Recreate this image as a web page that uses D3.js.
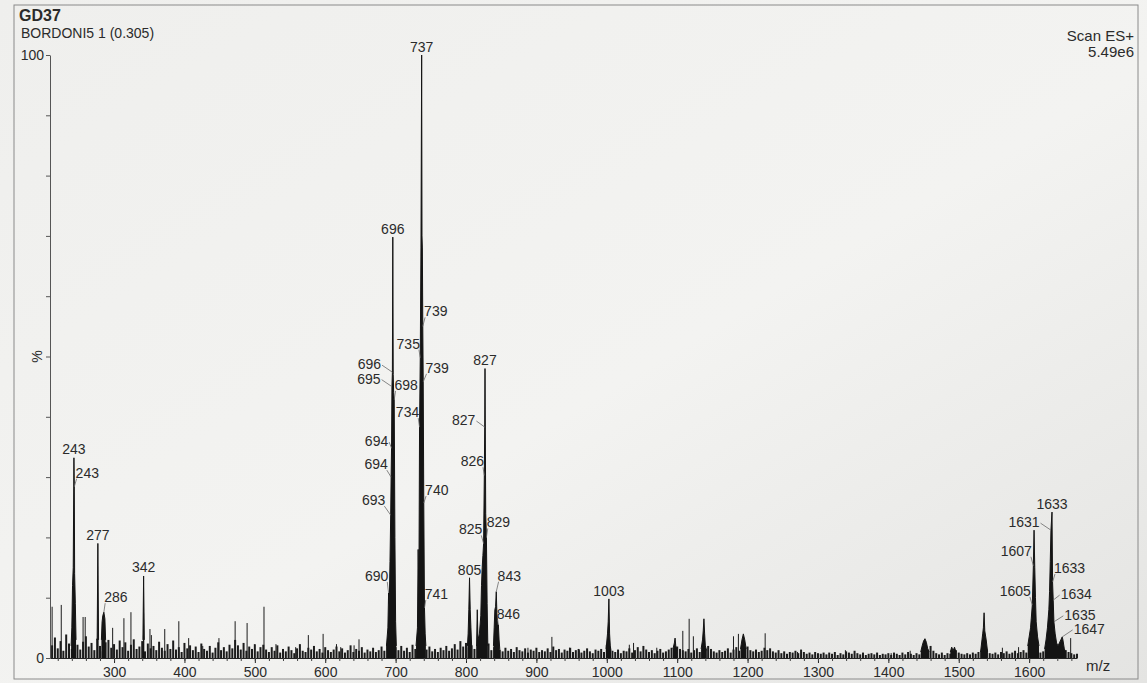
<!DOCTYPE html>
<html>
<head>
<meta charset="utf-8">
<script src="https://cdn.jsdelivr.net/npm/d3@7"></script>
<style>
  body { margin: 0; background: #efefed; }
  svg text { font-family: "Liberation Sans", Arial, sans-serif; fill: #2b2b2b; }
</style>
</head>
<body>
<div id="chart"></div>
<script>
// ---- data ----
const xTicks = [300, 400, 500, 600, 700, 800, 900, 1000, 1100, 1200, 1300, 1400, 1500, 1600];
const yTicks = [0, 10, 20, 30, 40, 50, 60, 70, 80, 90, 100];
const yLabels = { 0: "0", 100: "100" };

// baseline grass, % intensity, one value every 4 m/z starting at 212
const noiseStart = 212, noiseStep = 4;
const noise = [
  2.1,3.4,1.6,2.8,1.2,3.9,2.4,1.5,3.1,2.2,1.4,2.7,3.6,1.9,2.5,1.3,3.2,2.0,1.1,2.6,3.0,1.7,2.3,1.4,2.9,
  1.8,2.6,1.2,2.2,3.1,1.5,1.9,2.8,1.1,2.4,1.6,2.0,1.3,2.7,1.7,1.2,2.3,1.5,2.9,1.4,1.8,1.0,2.5,1.6,2.1,
  1.3,1.9,1.0,2.4,1.5,1.2,2.0,0.9,1.7,2.6,1.3,1.8,1.1,2.2,1.6,3.0,2.1,1.4,2.5,1.2,1.9,1.5,2.3,1.1,1.8,
  2.2,1.4,1.0,1.8,1.2,2.1,0.9,1.5,1.1,1.9,1.3,0.8,1.6,2.3,1.2,1.0,1.7,1.4,2.0,1.1,1.5,0.9,1.8,1.3,1.0,
  1.4,1.9,1.1,1.6,0.9,1.3,2.1,1.0,1.5,1.2,1.8,0.9,1.4,1.1,1.7,1.0,1.3,1.9,1.2,2.4,1.6,1.1,1.8,1.3,2.0,
  1.2,1.7,1.0,2.2,1.5,1.1,1.8,2.6,1.4,1.9,1.1,1.5,1.0,1.7,1.3,2.0,1.2,1.6,2.3,1.4,2.8,1.9,2.5,1.7,2.1,
  1.5,2.2,2.8,1.6,1.9,2.4,1.3,1.8,2.2,1.4,1.1,1.7,1.2,1.5,1.0,1.8,1.3,1.1,1.6,0.9,1.4,1.2,1.7,1.0,1.3,
  1.1,1.6,1.0,1.9,1.3,1.5,0.9,1.4,1.2,1.7,1.0,1.3,1.5,0.9,1.2,1.6,1.1,0.8,1.4,1.2,1.5,1.0,2.2,1.8,1.2,
  1.0,1.4,0.8,1.2,1.1,1.6,0.9,1.3,1.8,1.1,2.0,1.4,1.0,1.3,0.8,1.2,1.5,0.9,1.1,1.4,1.7,1.2,1.9,1.5,1.3,
  1.1,1.5,0.9,1.3,1.6,1.0,1.4,1.2,2.0,1.5,1.1,0.9,1.3,1.0,1.2,1.6,0.9,1.4,1.8,1.2,2.1,1.6,1.9,1.3,1.1,
  1.4,1.0,1.2,1.7,1.3,1.6,1.1,0.9,1.3,0.8,1.1,0.7,1.0,0.9,1.2,0.8,1.4,1.0,0.7,0.9,0.6,1.0,0.8,0.7,0.9,
  0.6,0.9,0.7,1.0,0.5,0.8,0.6,1.1,0.9,0.7,1.2,0.8,0.6,0.9,0.5,0.7,0.8,0.6,0.9,0.5,0.7,0.6,0.8,0.5,0.9,
  0.7,0.5,0.9,0.6,1.0,0.7,0.5,0.8,0.6,1.1,0.9,1.4,2.0,1.2,0.8,0.6,0.9,0.5,0.8,0.7,1.0,1.3,0.9,0.7,0.6,
  0.8,0.6,0.9,0.7,1.0,1.2,2.0,1.4,0.8,0.7,0.9,0.6,1.0,0.8,1.1,0.7,0.9,1.2,0.8,1.0,1.3,0.9,1.1,1.4,1.0,
  1.2,0.9,1.1,0.8,1.3,1.0,1.4,1.1,1.5,1.8,1.3,1.0,0.8,0.6,0.7
];

// unlabelled single sticks [m/z, %]
const sticks = [
  [212,8.5],[225,8.8],[256,6.8],[259,6.8],[298,5],[314,6.6],[324,7.6],[351,4.8],[353,3.8],
  [372,4.8],[392,6.1],[406,3.3],[426,2],[449,3.3],[472,6.1],[489,5.8],[513,8.5],[530,2.3],
  [558,1.8],[576,3.8],[597,4],[616,2.3],[622,1.8],[641,2.1],[648,3.1],[888,1.7],[922,3.5],
  [947,1.7],[961,1.3],[1032,2.2],[1038,2.5],[1071,1.7],[1108,4.5],[1117,6.5],[1123,3.6],
  [1180,3.6],[1187,4],[1225,4.1],[1271,1],[1339,1.3],[1404,0.8],[1431,1.2],[1562,1.7],
  [1585,1.8],[1659,3.3]
];

// peak profiles [m/z, %]
const p243 = [[239,2],[240,5],[241,12],[242,15],[243,33.2],[243.5,28.4],[244,14],[245,9],[246,3]];
const p277 = [[276,3],[277,19],[278,3]];
const p286 = [[282,3],[283,6],[284,7],[285.5,7.6],[287,6.5],[288,3]];
const p342 = [[341,3],[342,13.6],[343,3]];
const p696 = [[687,2],[689,5],[690,10.8],[691,9],[692,16],[693,23.7],[693.6,30],[694.2,34.8],
  [694.8,45],[695.4,47.4],[696,69.8],[696.6,47],[697.2,44],[698,42.8],[699,20],[700,6],[701,2]];
const p737 = [[729,2],[731,5],[732,18],[733,10],[734,38.3],[735,49.8],[736,68],[737,100],
  [737.5,70],[738,68],[738.6,55],[739.2,45.8],[740,25.7],[741,8.3],[742,4],[743,2]];
const p805 = [[802,2],[803,4],[804,8],[805,13.3],[806,8],[807,5],[808,2]];
const p827 = [[815,2],[816,8],[817,3],[819,4],[821,7],[822,12],[823,15],[824,17],[825,19],
  [826,30.3],[826.6,38.3],[827,48],[828,24],[829,20],[830,9],[831,2]];
const p843 = [[839,2],[840,5],[841,8],[842,8.5],[843,11],[844,7],[845,5.5],[846,5.5],[847,3],[848,1.5]];
const p1003 = [[999,1.5],[1001,4],[1002,6],[1003,9.8],[1004,4],[1005,2],[1006,1.2]];
const p1097 = [[1094,1.5],[1096,2.5],[1097,3.3],[1098,2],[1100,1.2]];
const p1138 = [[1134,1.5],[1136,3],[1137,4.5],[1138,6.5],[1139,4],[1140,2],[1142,1.2]];
const p1195 = [[1190,1.5],[1192,3],[1194,4],[1196,3],[1198,1.5]];
const p1452 = [[1446,1],[1448,2],[1450,2.8],[1452,3.2],[1454,2.6],[1456,1.5],[1458,1]];
const p1492 = [[1488,1],[1490,1.8],[1492,1.2],[1494,1.8],[1496,1]];
const p1536 = [[1531,1],[1533,3],[1534,4],[1535,5],[1536,7.5],[1537,4.5],[1539,3],[1541,1]];
const p1607 = [[1598,2],[1600,3.5],[1602,5],[1603,6.5],[1604.5,8.8],[1606,15.3],[1607,21.2],
  [1608,15],[1609,10],[1610,6],[1612,3.5],[1614,2]];
const p1633 = [[1622,1.5],[1624,3],[1626,5],[1628,8],[1629,11],[1630,16],[1631,21.2],[1632.5,24.2],
  [1633.3,12.6],[1634.2,9.6],[1635.2,6],[1637,4],[1639,2.5],[1641,2],[1643,2.5],[1645,3],[1647,3.5],
  [1648,3],[1650,1.5],[1652,1]];
const profiles = [p243, p277, p286, p342, p696, p737, p805, p827, p843, p1003,
  p1097, p1138, p1195, p1452, p1492, p1536, p1607, p1633];

// peak labels [text, m/z, %]
const peakLabels = [
  ["243",243,33.2],["243",243.5,28.4],["277",277,19],["286",285.5,7.6],["342",342,13.6],
  ["690",690,10.8],["693",693,23.7],["694",693.6,30],["694",694.2,34.8],["695",694.8,45],
  ["696",695.4,47.4],["696",696,69.8],["698",698,42.8],
  ["734",734,38.3],["735",735,49.8],["737",737,100],["739",738.6,55],["739",739.2,45.8],
  ["740",740,25.7],["741",741,8.3],
  ["805",805,13.3],["825",825,19],["826",826,30.3],["827",826.6,38.3],["827",827,48],
  ["829",829,20],["843",843,11],["846",846,5.5],
  ["1003",1003,9.8],["1605",1604.5,8.8],["1607",1606,15.3],["1631",1631,21.2],
  ["1633",1632.5,24.2],["1633",1633.3,12.6],["1634",1634.2,9.6],["1635",1635.2,6],["1647",1647,3.5]
];

// ---- layout ----
const W = 1147, H = 683;
// where each label text sits relative to its peak point (same order as peakLabels)
const labelOffsets = [
  [0,-4],[13,-9],[0,-3],[12,-10],[0,-4],
  [-12,-12],[-17,-10],[-15,-8],[-15,-2],[-23,-3],
  [-23,-3],[0,-3],[12,-10],
  [-12,-10],[-12,-9],[0,-3],[13,-10],[14,-9],
  [13,-8],[12,-9],
  [0,-3],[-13,-9],[-12,-9],[-21,-2],[0,-4],
  [12,-10],[13,-11],[10,-6],
  [0,-3],[-17,-9],[-17,-10],[-27,-3],
  [0,-3],[17,-9],[23,-1],[26,-2],[27,-3]
];

const svg = d3.select("#chart")
  .append("svg")
  .attr("width", W)
  .attr("height", H);

const grad = svg.append("defs").append("linearGradient")
  .attr("id", "paper").attr("x1", 0).attr("y1", 0).attr("x2", 1).attr("y2", 1);
grad.append("stop").attr("offset", "0%").attr("stop-color", "#efefed");
grad.append("stop").attr("offset", "55%").attr("stop-color", "#f3f3f1");
grad.append("stop").attr("offset", "100%").attr("stop-color", "#e4e4e2");

svg.append("rect").attr("width", W).attr("height", H).attr("fill", "url(#paper)");

// printout frame
svg.append("rect")
  .attr("x", 14).attr("y", 5).attr("width", 1124).attr("height", 674)
  .attr("fill", "none").attr("stroke", "#8a8a8a").attr("stroke-width", 1);

const x = d3.scaleLinear().domain([209, 1668]).range([50, 1077]);
const y = d3.scaleLinear().domain([0, 100]).range([658, 55]);

// header texts
svg.append("text").attr("x", 19).attr("y", 21)
  .style("font-size", "16px").style("font-weight", "bold").text("GD37");
svg.append("text").attr("x", 21).attr("y", 38)
  .style("font-size", "14px").text("BORDONI5 1 (0.305)");
svg.append("text").attr("x", 1134).attr("y", 41)
  .style("font-size", "15px").style("text-anchor", "end").text("Scan ES+");
svg.append("text").attr("x", 1134).attr("y", 57)
  .style("font-size", "15px").style("text-anchor", "end").text("5.49e6");

// axes
const yAxis = svg.append("g")
  .attr("transform", `translate(${x.range()[0]},0)`)
  .call(d3.axisLeft(y).tickValues(yTicks).tickSize(4).tickSizeOuter(0)
    .tickFormat(d => yLabels[d] || ""));
yAxis.selectAll("text").style("font-size", "14px").attr("x", -6);
yAxis.selectAll("line,path").attr("stroke", "#555");

svg.append("text")
  .attr("transform", `translate(42,${y(50)}) rotate(-90)`)
  .style("text-anchor", "middle").style("font-size", "14px").text("%");

const xAxis = svg.append("g")
  .attr("transform", `translate(0,${y(0)})`)
  .call(d3.axisBottom(x).tickValues(xTicks).tickSize(5).tickPadding(4).tickSizeOuter(0)
    .tickFormat(d3.format("d")));
xAxis.selectAll("text").style("font-size", "14px");
xAxis.selectAll("line,path").attr("stroke", "#222");

svg.append("g")
  .attr("transform", `translate(0,${y(0)})`)
  .call(d3.axisBottom(x).tickValues(d3.range(220, 1661, 20)).tickSize(3).tickFormat(""))
  .call(g => g.select(".domain").remove())
  .selectAll("line").attr("stroke", "#444");

svg.append("text").attr("x", 1086).attr("y", 671)
  .style("font-size", "15px").text("m/z");

// baseline grass
const noisePts = noise.map((v, i) => [noiseStart + i * noiseStep, v]).filter(d => d[0] <= 1668);
const spec = svg.append("g");
spec.selectAll("line.grass")
  .data(noisePts)
  .join("line")
  .attr("class", "grass")
  .attr("x1", d => x(d[0])).attr("x2", d => x(d[0]))
  .attr("y1", y(0)).attr("y2", d => y(d[1]))
  .attr("stroke", "#1c1c1c").attr("stroke-width", 2);

// single sticks
spec.selectAll("line.stick")
  .data(sticks)
  .join("line")
  .attr("class", "stick")
  .attr("x1", d => x(d[0])).attr("x2", d => x(d[0]))
  .attr("y1", y(0)).attr("y2", d => y(d[1]))
  .attr("stroke", "#1c1c1c").attr("stroke-width", 1);

// profile peaks
const area = d3.area().x(d => x(d[0])).y0(y(0)).y1(d => y(d[1]));
const line = d3.line().x(d => x(d[0])).y(d => y(d[1]));
spec.selectAll("path.peak")
  .data(profiles)
  .join("path")
  .attr("class", "peak")
  .attr("d", area)
  .attr("fill", "#141414");
spec.selectAll("path.peakline")
  .data(profiles)
  .join("path")
  .attr("class", "peakline")
  .attr("d", line)
  .attr("fill", "none")
  .attr("stroke", "#141414")
  .attr("stroke-width", 1);

// peak labels with leader lines
const lab = svg.append("g");
peakLabels.forEach((d, i) => {
  const px = x(d[1]), py = y(d[2]);
  const [dx, dy] = labelOffsets[i];
  const tx = px + dx, ty = py + dy;
  const t = lab.append("text")
    .attr("x", tx).attr("y", ty)
    .style("font-size", "14px").style("text-anchor", "middle")
    .text(d[0]);
  if (dx !== 0) {
    const w = t.node().getComputedTextLength();
    const low = dy <= -6;
    const sx = dx > 0 ? tx - w / 2 + (low ? 1 : -1) : tx + w / 2 + (low ? -1 : 1);
    const sy = low ? ty + 1 : ty - 4;
    lab.append("line")
      .attr("x1", sx).attr("y1", sy).attr("x2", px).attr("y2", py)
      .attr("stroke", "#6a6a6a").attr("stroke-width", 0.8);
  }
});
</script>
</body>
</html>
